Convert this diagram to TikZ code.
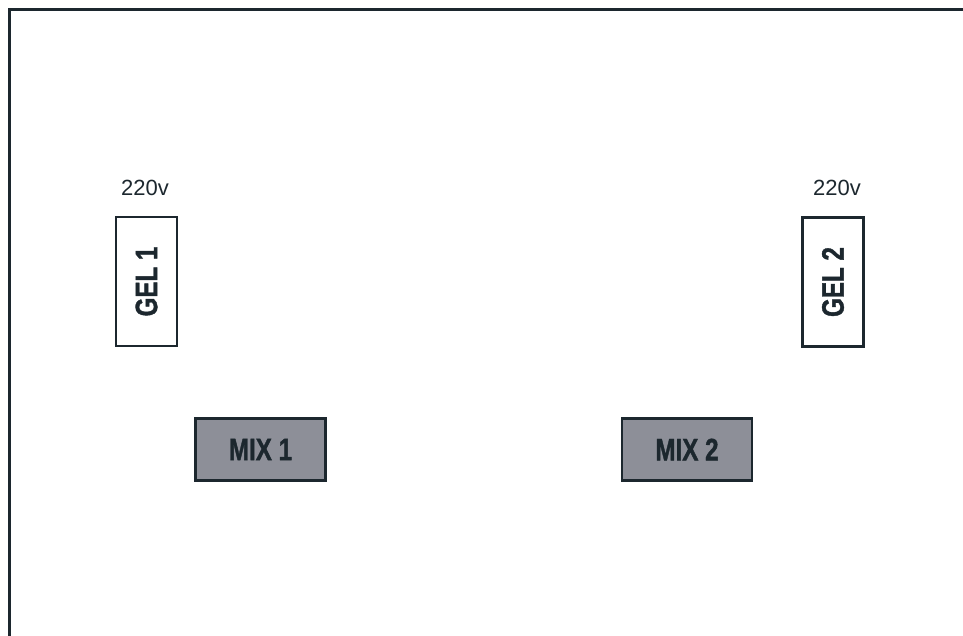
\documentclass[tikz,border=0pt]{standalone}
\usepackage{fontspec}
\setmainfont{Liberation Sans}
\newfontfamily\condfont{Liberation Sans}[FakeStretch=0.78,FakeBold=1.2]
\usepackage{tikz}
\usetikzlibrary{positioning}

\definecolor{frame}{HTML}{1C272E}
\definecolor{mixgray}{HTML}{8D8F98}

\begin{document}
\begin{tikzpicture}[x=1pt,y=-1pt,
    gel/.style={draw=frame, line width=2.2pt, rotate=90, minimum width=129pt,
      minimum height=61pt, inner sep=0pt, text=frame,
      font=\condfont\bfseries\fontsize{31}{34}\selectfont},
    mix/.style={draw=frame, line width=2.6pt, fill=mixgray, minimum width=130pt,
      minimum height=62pt, inner sep=0pt, text=frame,
      font=\condfont\bfseries\fontsize{31}{34}\selectfont},
    volt/.style={text=frame, inner sep=0pt, font=\fontsize{22}{26}\selectfont}]
  \useasboundingbox (0,0) rectangle (963,636);

  % outer wall, open on the right and at the bottom
  \draw[frame, line width=3pt] (963,9.5) -- (9.5,9.5) -- (9.5,636);

  \node[gel] (gel1) at (146.5,281.5) {GEL 1};
  \node[gel] (gel2) at (833,282) {GEL 2};

  \node[volt] (volt1) at (145,188) {220v};
  \node[volt] (volt2) at (837,188) {220v};

  \node[mix] (mix1) at (260.5,449.5) {MIX 1};
  \node[mix] (mix2) at (687,449.5) {MIX 2};

\end{tikzpicture}
\end{document}
